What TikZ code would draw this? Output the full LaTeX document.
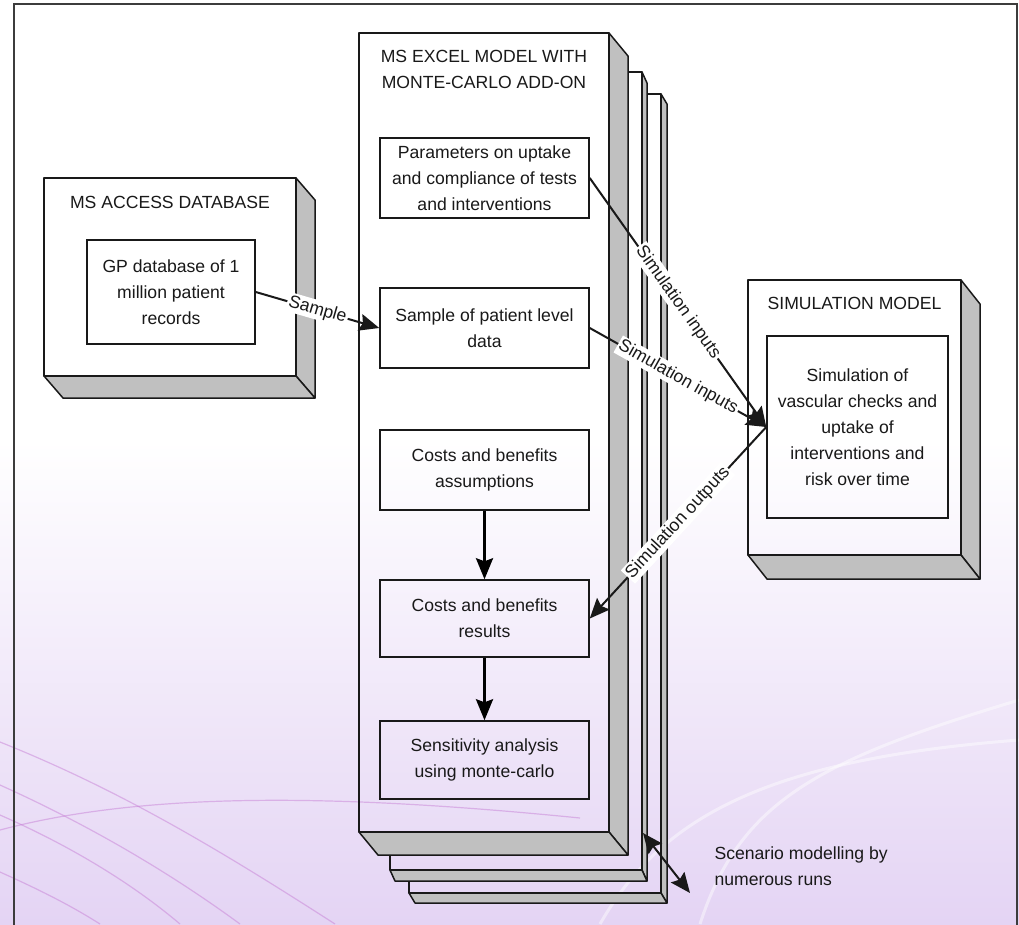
\documentclass[tikz,border=0pt]{standalone}
\usepackage{fontspec}
\setmainfont{Liberation Sans}
\usetikzlibrary{arrows.meta}
\definecolor{sidegray}{RGB}{192,192,192}
\definecolor{ink}{RGB}{25,25,25}
\definecolor{lav}{RGB}{228,212,244}
\definecolor{pale}{RGB}{238,242,252}
\definecolor{swoosh}{RGB}{200,130,215}
\newcommand\drawslab[6]{%
  \filldraw[face] (#3,#2) -- (#3+#5,#2+#6) -- (#3+#5,#4+#6) -- (#3,#4) -- cycle;
  \filldraw[face] (#1,#4) -- (#3,#4) -- (#3+#5,#4+#6) -- (#1+#5,#4+#6) -- cycle;
  \draw[cont] (#1,#2) rectangle (#3,#4);}
\begin{document}
\begin{tikzpicture}[x=1pt,y=-1pt,
  txt/.style={font=\fontsize{17.6}{26}\selectfont, text=ink},
  inbox/.style={txt, draw=ink, line width=1.5pt, align=center,
    minimum width=209pt, minimum height=80pt, inner sep=2pt},
  cont/.style={draw=ink, line width=1.5pt, line join=round},
  face/.style={fill=sidegray, draw=ink, line width=1.5pt, line join=round},
  lab/.style={txt, fill=white, inner sep=1.5pt, sloped, midway},
  tipA/.tip={Stealth[length=20pt,width=17pt,inset=3pt]},
  conn/.style={draw=ink, line width=2pt, -tipA},
  flow/.style={draw=black, line width=2.8pt, -{Stealth[length=21pt,width=17pt,inset=3pt]}}
]
\useasboundingbox (0,0) rectangle (1019,924);
% background
\fill[white] (0,0) rectangle (1019,924);
\shade[top color=white, middle color=pale, bottom color=lav] (0,440) rectangle (1019,924);
\begin{scope}[draw=swoosh, opacity=0.5, line width=1.2pt]
  \draw (0,742) .. controls (120,790) and (220,850) .. (335,924);
  \draw (0,785) .. controls (100,830) and (180,880) .. (240,924);
  \draw (0,815) .. controls (80,850) and (140,890) .. (180,924);
  \draw (0,872) .. controls (40,890) and (70,905) .. (100,924);
  \draw (0,830) .. controls (150,790) and (350,795) .. (580,818);
\end{scope}
\begin{scope}[draw=white, opacity=0.45, line width=3pt]
  \draw (700,924) .. controls (740,800) and (820,760) .. (1019,700);
  \draw (600,924) .. controls (660,820) and (760,760) .. (1019,740);
\end{scope}
% frame
\draw[line width=1.3pt, draw={rgb,255:red,60;green,60;blue,60}] (14,960) -- (14,4) -- (1017,4) -- (1017,960);
% stacked excel cards
\begin{scope}
  \clip (-50,-50) -- (1100,-50) -- (1100,1000) -- (-50,1000) -- cycle
        (359,33) -- (359,832) -- (378,855) -- (628,855) -- (628,56) -- (609,33) -- cycle;
  \begin{scope}
    \clip (-50,-50) -- (1100,-50) -- (1100,1000) -- (-50,1000) -- cycle
          (390,72) -- (390,870) -- (395,881) -- (647,881) -- (647,83) -- (642,72) -- cycle;
    \drawslab{409}{94}{661}{893}{6}{10}
  \end{scope}
  \drawslab{390}{72}{642}{870}{5}{11}
\end{scope}
\drawslab{359}{33}{609}{832}{19}{23}
% other containers
\drawslab{44}{178}{296}{376}{19}{22}
\drawslab{748}{280}{961}{555}{19}{24}
% titles
\node[txt] (accT) at (170,202) {MS ACCESS DATABASE};
\node[txt, align=center] (excT) at (484,69.5) {MS EXCEL MODEL WITH\\MONTE-CARLO ADD-ON};
\node[txt] (simT) at (854.5,303) {SIMULATION MODEL};
% inner boxes
\node[inbox, minimum width=168pt, minimum height=104pt] (gp) at (171,292) {GP database of 1\\million patient\\records};
\node[inbox] (params) at (484.5,178) {Parameters on uptake\\and compliance of tests\\and interventions};
\node[inbox] (sample) at (484.5,328) {Sample of patient level\\data};
\node[inbox] (assump) at (484.5,470) {Costs and benefits\\assumptions};
\node[inbox, minimum height=77pt] (results) at (484.5,618.5) {Costs and benefits\\results};
\node[inbox, minimum height=78pt] (sensit) at (484.5,760) {Sensitivity analysis\\using monte-carlo};
\node[inbox, minimum width=181pt, minimum height=182pt] (sim) at (857.5,427) {Simulation of\\vascular checks and\\uptake of\\interventions and\\risk over time};
% connectors
\draw[conn] (gp.east) -- node[lab]{Sample} (sample.west);
\draw[conn] (params.east) -- node[lab]{Simulation inputs} (sim.west);
\draw[conn] (sample.east) -- node[lab]{Simulation inputs} (sim.west);
\draw[conn] (sim.west) -- node[lab]{Simulation outputs} (results.east);
\draw[flow] (assump.south) -- (results.north);
\draw[flow] (results.south) -- (sensit.north);
% scenario
\coordinate (scA) at (643,833);
\coordinate (scB) at (690,893);
\draw[draw=ink, line width=2pt, tipA-tipA] (scA) -- (scB);
\node[txt, align=left, anchor=west] (scen) at (711,866) {Scenario modelling by\\numerous runs};
\end{tikzpicture}
\end{document}
